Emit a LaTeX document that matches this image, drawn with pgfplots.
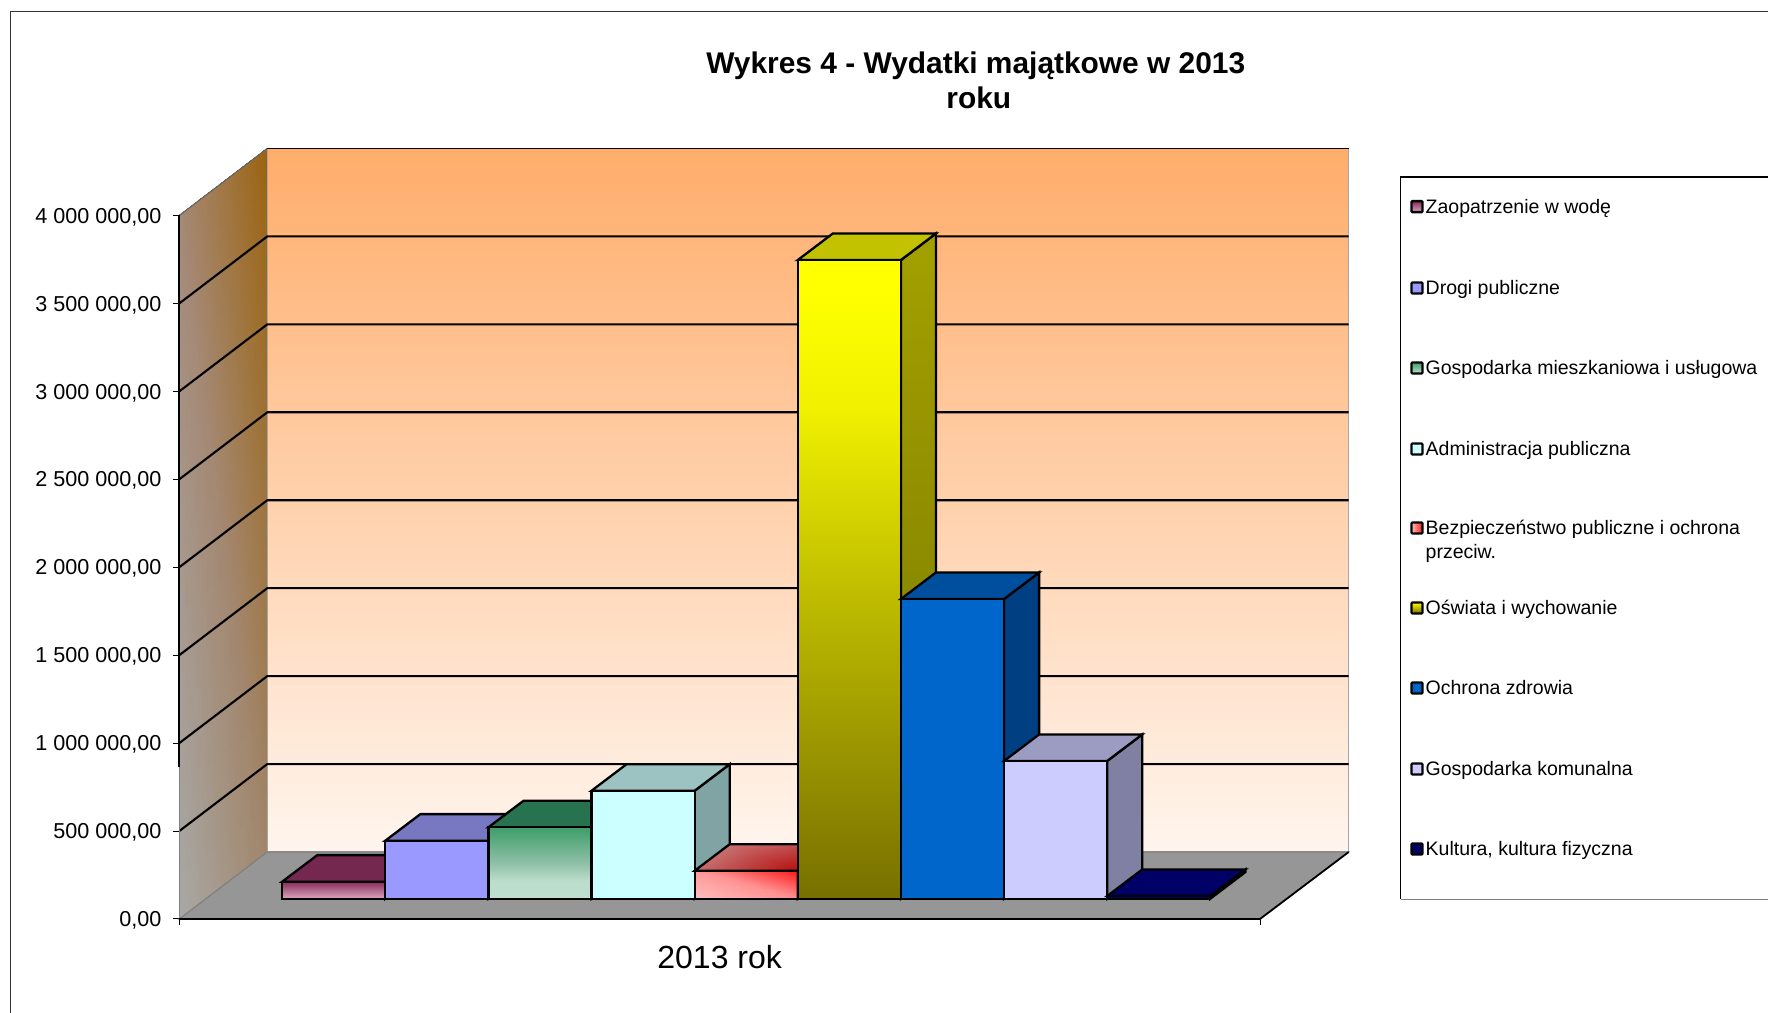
\documentclass[border=0pt]{standalone}
\usepackage{fontspec}
\setmainfont{Liberation Sans}
\usepackage{pgfplots}
\pgfplotsset{compat=1.18}

% one reference pixel = 1bp
\definecolor{wallTop}{HTML}{FFAD6B}
\definecolor{wallBot}{HTML}{FFF5EE}
\definecolor{floorc}{HTML}{969696}
\definecolor{wodaT}{HTML}{8B2A5B}
\definecolor{wodaB}{HTML}{D8A8C0}
\definecolor{wodaU}{HTML}{742850}
\definecolor{wodaS}{HTML}{5A2040}
\definecolor{drogiF}{HTML}{9999FF}
\definecolor{drogiU}{HTML}{7777C2}
\definecolor{drogiS}{HTML}{6666AA}
\definecolor{gospT}{HTML}{3E9E6A}
\definecolor{gospM}{HTML}{8FC0A7}
\definecolor{gospL}{HTML}{BBDDCC}
\definecolor{gospB}{HTML}{C0E0D0}
\definecolor{gospU}{HTML}{277350}
\definecolor{gospS}{HTML}{1F5A40}
\definecolor{admF}{HTML}{CCFFFF}
\definecolor{admU}{HTML}{9CC2C2}
\definecolor{admS}{HTML}{80A3A3}
\definecolor{bezA}{HTML}{FFC0C0}
\definecolor{bezB}{HTML}{FF1818}
\definecolor{bezS}{HTML}{8A1010}
\definecolor{oswT}{HTML}{FFFF00}
\definecolor{oswM}{HTML}{F0F000}
\definecolor{oswL}{HTML}{BBB800}
\definecolor{oswB}{HTML}{777000}
\definecolor{oswU}{HTML}{C2C200}
\definecolor{oswST}{HTML}{A3A000}
\definecolor{oswSB}{HTML}{777700}
\definecolor{zdrF}{HTML}{0066CC}
\definecolor{zdrU}{HTML}{004F9E}
\definecolor{zdrS}{HTML}{003F82}
\definecolor{komF}{HTML}{CCCCFF}
\definecolor{komU}{HTML}{9C9CC2}
\definecolor{komS}{HTML}{8080A3}
\definecolor{kulF}{HTML}{000066}
\definecolor{kulS}{HTML}{000044}

\pgfdeclareverticalshading{oswShade}{100bp}{color(0bp)=(oswB); color(25bp)=(oswB); color(47.6bp)=(oswL); color(63.25bp)=(oswM); color(72.5bp)=(oswT); color(100bp)=(oswT)}
\pgfdeclareverticalshading{gospShade}{100bp}{color(0bp)=(gospB); color(25bp)=(gospB); color(37.5bp)=(gospL); color(50bp)=(gospM); color(75bp)=(gospT); color(100bp)=(gospT)}

% bar plane sits above the front floor line, depth offsets in axis units
\def\ybase{115400}
\def\ddx{0.34}
\def\ddy{151000}
\def\wallx{0.853}
\def\wally{381000}
\def\xend{10.48}

% #1 left edge, #2 value, #3 front, #4 top, #5 side
\newcommand\drawbar[5]{%
  \addplot[barline,#5] coordinates {(#1+1,\ybase) (#1+1+\ddx,\ybase+\ddy) (#1+1+\ddx,\ybase+\ddy+#2) (#1+1,\ybase+#2)} -- cycle;
  \addplot[barline,#4] coordinates {(#1,\ybase+#2) (#1+\ddx,\ybase+\ddy+#2) (#1+1+\ddx,\ybase+\ddy+#2) (#1+1,\ybase+#2)} -- cycle;
  \addplot[barline,#3] coordinates {(#1,\ybase) (#1,\ybase+#2) (#1+1,\ybase+#2) (#1+1,\ybase)} -- cycle;
}
\newcommand\gridline[1]{%
  \addplot[black,line width=2.1bp] coordinates {(0,#1) (\wallx,#1+\wally) (11.34,#1+\wally)};
}
\newcommand\legkey[3]{%
  \draw[black,line width=2.4bp,rounded corners=1bp,#3] (1411.5,#1-5.5) rectangle (1422.5,#1+5.5);
  \node[anchor=base west,inner sep=0pt,font=\fontsize{19.5bp}{24bp}\selectfont] at (1425.5,#1+7) {#2};
}

\begin{document}
\begin{tikzpicture}
\path[use as bounding box] (0,0) rectangle (1768bp,1013bp);
\begin{axis}[
  at={(179.3bp,94bp)}, anchor=origin,
  scale only axis, width=1080.7bp, height=703.5bp,
  xmin=0, xmax=\xend, ymin=0, ymax=4000000,
  clip=false,
  axis line style={draw=none},
  xtick pos=bottom, ytick pos=left, tick align=outside,
  xtick={0,\xend}, xticklabels={,},
  ytick={0,500000,1000000,1500000,2000000,2500000,3000000,3500000,4000000},
  major tick length=6bp,
  tick style={black,line width=1bp},
  scaled y ticks=false,
  tick label style={font=\fontsize{21.6bp}{26bp}\selectfont},
  yticklabel style={inner xsep=11.7bp,yshift=-1.5bp,/pgf/number format/.cd,fixed,fixed zerofill,precision=2,use comma,1000 sep={\ },assume math mode=true},
  xlabel={2013 rok},
  xlabel style={at={(axis description cs:0.5,-0.0544)},anchor=center,font=\fontsize{32bp}{38bp}\selectfont},
  title={Wykres 4 - Wydatki majątkowe w 2013\\\hspace*{6bp}roku},
  title style={at={(axis description cs:0.737,1.184)},anchor=center,align=center,font=\bfseries\fontsize{29.9bp}{35.5bp}\selectfont},
  barline/.style={draw=black,line width=2.3bp,line join=miter},
]
% left wall
\addplot[patch,patch type=rectangle,shader=interp,mesh/color input=explicit] table[meta=c] {
x y c
0 0 0.66,0.66,0.65
0.853 381000 0.63,0.52,0.41
0.853 4381000 0.61,0.39,0.06
0 4000000 0.65,0.54,0.47
};
% back wall
\addplot[draw=gray!70,line width=1.4bp,top color=wallTop,bottom color=wallBot] coordinates {(\wallx,\wally) (\wallx,4381000) (11.34,4381000) (11.34,\wally)} -- cycle;
% floor
\addplot[draw=gray,line width=1.2bp,fill=floorc] coordinates {(0,0) (\wallx,\wally) (11.34,\wally) (\xend,0)} -- cycle;
% grid
\gridline{500000}
\gridline{1000000}
\gridline{1500000}
\gridline{2000000}
\gridline{2500000}
\gridline{3000000}
\gridline{3500000}
\addplot[black,line width=1.7bp] coordinates {(\wallx,4381000) (11.34,4381000)};
\addplot[gray!80!black,line width=1.2bp] coordinates {(0,4000000) (\wallx,4381000)};
% axis edges
\addplot[black,line width=1.9bp] coordinates {(0,4000000) (0,864000)};
\addplot[gray,line width=1.4bp] coordinates {(0,864000) (0,0)};
\addplot[black,line width=2.8bp] coordinates {(0,0) (\xend,0)};
\addplot[black,line width=1.8bp] coordinates {(\xend,0) (11.34,\wally)};
% bars
\drawbar{0.998}{96700}{top color=wodaT,bottom color=wodaB}{fill=wodaU}{fill=wodaS}
\drawbar{1.998}{330000}{fill=drogiF}{fill=drogiU}{fill=drogiS}
\drawbar{2.998}{406000}{shade,shading=gospShade}{fill=gospU}{fill=gospS}
\drawbar{3.998}{614000}{fill=admF}{fill=admU}{fill=admS}
% red bar: diagonal gradients as patches, outline from \drawbar
\addplot[patch,patch type=rectangle,shader=interp,mesh/color input=explicit] table[meta=c] {
x y c
4.998 115400 1,0.75,0.75
5.998 115400 1,0.56,0.56
5.998 274400 1,0.09,0.09
4.998 274400 1,0.6,0.6
};
\addplot[patch,patch type=rectangle,shader=interp,mesh/color input=explicit] table[meta=c] {
x y c
4.998 274400 0.77,0.42,0.42
5.998 274400 0.72,0.06,0.06
6.338 425400 0.75,0.25,0.25
5.338 425400 0.78,0.45,0.45
};
\drawbar{4.998}{159000}{}{}{fill=bezS}
\drawbar{5.998}{3631500}{shade,shading=oswShade}{fill=oswU}{top color=oswST,bottom color=oswSB}
\drawbar{6.998}{1704000}{fill=zdrF}{fill=zdrU}{fill=zdrS}
\drawbar{7.998}{783000}{fill=komF}{fill=komU}{fill=komS}
\drawbar{8.998}{15000}{fill=kulF}{fill=kulF}{fill=kulS}
\end{axis}
\begin{scope}[x=1bp,y=-1bp,yshift=1013bp]
  % outer frame and legend box
  \draw[black!80,line width=1bp] (10.5,1013) -- (10.5,12) -- (1768,12);
  \draw[black,line width=1.2bp] (1768,177) -- (1400.5,177) -- (1400.5,899.5);
  \draw[gray,line width=1.6bp] (1400.5,899.5) -- (1768,899.5);
  \legkey{206.7}{Zaopatrzenie w wodę}{top color=wodaT,bottom color=wodaB}
  \legkey{288}{Drogi publiczne}{fill=drogiF}
  \legkey{368}{Gospodarka mieszkaniowa i usługowa}{top color=gospT,bottom color=gospB}
  \legkey{449}{Administracja publiczna}{fill=admF}
  \legkey{528}{Bezpieczeństwo publiczne i ochrona}{left color=bezA,right color=bezB}
  \node[anchor=base west,inner sep=0pt,font=\fontsize{19.5bp}{24bp}\selectfont] at (1425.5,559) {przeciw.};
  \legkey{608}{Oświata i wychowanie}{top color=oswT,bottom color=oswB}
  \legkey{688}{Ochrona zdrowia}{fill=zdrF}
  \legkey{769}{Gospodarka komunalna}{fill=komF}
  \legkey{849}{Kultura, kultura fizyczna}{fill=kulF}
\end{scope}
\end{tikzpicture}
\end{document}
